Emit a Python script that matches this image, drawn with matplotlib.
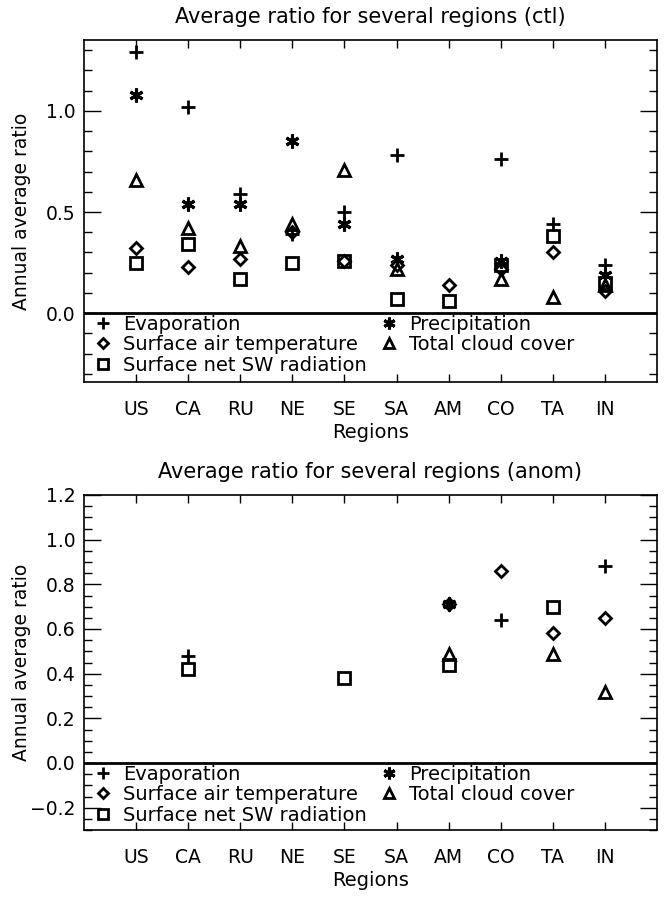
import numpy as np
import matplotlib
matplotlib.use("Agg")
import matplotlib.pyplot as plt
import matplotlib.ticker as ticker

nan = np.nan

regions = ['US', 'CA', 'RU', 'NE', 'SE', 'SA', 'AM', 'CO', 'TA', 'IN']

# control run ratios
ctl_evap = [1.29, 1.02, 0.59, 0.39, 0.50, 0.78, nan, 0.76, 0.44, 0.24]
ctl_precip = [1.08, 0.54, 0.54, 0.85, 0.44, 0.27, nan, 0.26, nan, 0.19]
ctl_sat = [0.32, 0.23, 0.27, 0.40, 0.26, 0.24, 0.14, 0.22, 0.30, 0.11]
ctl_cloud = [0.66, 0.42, 0.33, 0.44, 0.71, 0.22, nan, 0.17, 0.08, 0.14]
ctl_sw = [0.25, 0.34, 0.17, 0.25, 0.26, 0.07, 0.06, 0.24, 0.38, 0.15]

# anomaly ratios
anom_evap = [nan, 0.48, nan, nan, nan, nan, nan, 0.64, nan, 0.88]
anom_precip = [nan, nan, nan, nan, nan, nan, 0.71, nan, nan, nan]
anom_sat = [nan, nan, nan, nan, nan, nan, 0.71, 0.86, 0.58, 0.65]
anom_cloud = [nan, nan, nan, nan, nan, nan, 0.49, nan, 0.49, 0.32]
anom_sw = [nan, 0.42, nan, nan, 0.38, nan, 0.44, nan, 0.70, nan]

labels = ['Evaporation', 'Surface air temperature', 'Surface net SW radiation',
          'Precipitation', 'Total cloud cover']

plt.rcParams['font.family'] = 'DejaVu Sans'

# marker styles: evap, sat, sw, precip, cloud
styles = [
    dict(marker='+', ms=10, mew=2.0, mfc='none'),
    dict(marker='D', ms=6, mew=2.0, mfc='none'),
    dict(marker='s', ms=9, mew=2.0, mfc='none'),
    dict(marker=(6, 2, 0), ms=10, mew=2.2, mfc='none'),
    dict(marker='^', ms=9, mew=2.0, mfc='none'),
]


def fmt_tick(v, pos):
    s = '%.1f' % v
    if s == '-0.0':
        s = '0.0'
    return s.replace('-', '\u2212')


def panel(ax, series, title, ylim, major, minor):
    x = np.arange(1, len(regions) + 1)
    handles = []
    for vals, st, lab in zip(series, styles, labels):
        h, = ax.plot(x, vals, ls='none', color='black', mec='black', label=lab, **st)
        handles.append(h)
    ax.axhline(0, color='black', lw=2)
    ax.set_xlim(0, 11)
    ax.set_ylim(*ylim)
    ax.set_xticks(x)
    ax.set_xticklabels(regions)
    ax.yaxis.set_major_locator(ticker.MultipleLocator(major))
    ax.yaxis.set_minor_locator(ticker.MultipleLocator(minor))
    ax.yaxis.set_major_formatter(ticker.FuncFormatter(fmt_tick))
    ax.tick_params(axis='y', which='major', direction='in', length=12, width=1,
                   right=True, labelsize=13.5, pad=6)
    ax.tick_params(axis='y', which='minor', direction='in', length=6, width=1, right=True)
    ax.tick_params(axis='x', which='major', direction='in', length=6, width=1,
                   top=True, labelsize=13.5, pad=13)
    for s in ax.spines.values():
        s.set_linewidth(1.2)
    ax.set_title(title, fontsize=15, pad=12)
    ax.set_xlabel('Regions', fontsize=14, labelpad=3)
    ax.set_ylabel('Annual average ratio', fontsize=13.5)
    ax.yaxis.set_label_coords(-0.092, 0.5)
    y0 = (0 - ylim[0]) / (ylim[1] - ylim[0])
    ax.legend(handles=handles, loc='upper left', bbox_to_anchor=(0.012, y0 + 0.004),
              ncol=2, frameon=False, fontsize=14, handlelength=0.9,
              handletextpad=0.6, labelspacing=0.08, columnspacing=0.7,
              borderaxespad=0.05, borderpad=0.1, markerscale=0.85)


fig = plt.figure(figsize=(6.64, 8.99), dpi=100)
ax1 = fig.add_axes([84 / 664, 1 - 382 / 899, 573 / 664, 342 / 899])
ax2 = fig.add_axes([84 / 664, 1 - 830 / 899, 573 / 664, 335 / 899])

panel(ax1, [ctl_evap, ctl_sat, ctl_sw, ctl_precip, ctl_cloud],
      'Average ratio for several regions (ctl)', (-0.34, 1.35), 0.5, 0.1)
panel(ax2, [anom_evap, anom_sat, anom_sw, anom_precip, anom_cloud],
      'Average ratio for several regions (anom)', (-0.3, 1.2), 0.2, 0.05)

fig.savefig('out.png', dpi=100)
